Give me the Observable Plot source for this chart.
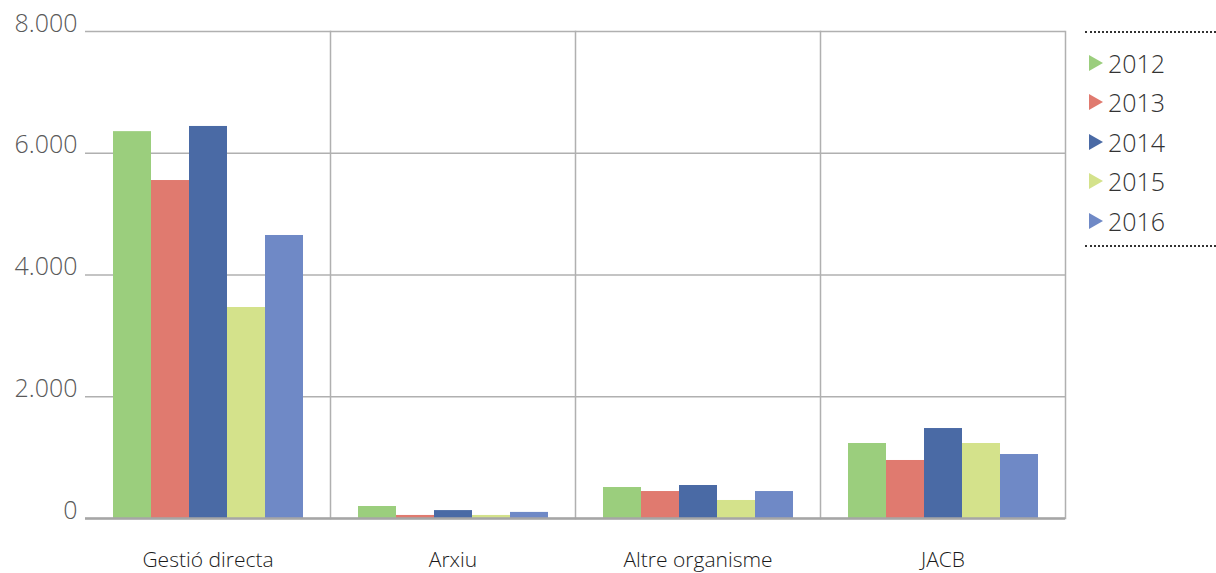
<!DOCTYPE html>
<html>
<head>
<meta charset="utf-8">
<script src="https://cdn.jsdelivr.net/npm/d3@7"></script>
<script src="https://cdn.jsdelivr.net/npm/@observablehq/plot@0.6"></script>
<style>
  html, body { margin: 0; padding: 0; background: #fff; }
  #wrap { position: relative; width: 1216px; height: 573px; font-family: "Open Sans", Lato, sans-serif; font-weight: 300; }
  #legend { position: absolute; left: 1085px; top: 31px; width: 131px; border-top: 2px dotted #333; border-bottom: 2px dotted #333; padding: 10px 0 4px 0; }
  .item { display: flex; align-items: center; height: 39.5px; font-size: 25px; color: #333; }
  .item svg { margin-left: 4px; margin-right: 5px; }
</style>
</head>
<body>
<div id="wrap"><div id="legend"></div></div>
<script>
const categories = ["Gestió directa", "Arxiu", "Altre organisme", "JACB"];
const years = ["2012", "2013", "2014", "2015", "2016"];
const v2012 = [6355, 197, 509, 1232];
const v2013 = [5552, 50, 443, 953];
const v2014 = [6440, 130, 542, 1478];
const v2015 = [3466, 50, 296, 1232];
const v2016 = [4649, 100, 443, 1051];
const yTicks = [0, 2000, 4000, 6000, 8000];
const colors = ["#9BCE7D", "#E07A6F", "#4A6AA5", "#D4E28B", "#6F89C6"];

const series = [v2012, v2013, v2014, v2015, v2016];
const data = [];
years.forEach((yr, i) => categories.forEach((c, j) => data.push({cat: c, year: yr, value: series[i][j]})));

const locale = d3.formatLocale({decimal: ",", thousands: ".", grouping: [3], currency: ["", "€"]});
const fmt = locale.format(",d");

const chart = Plot.plot({
  width: 1216,
  height: 573,
  marginLeft: 84,
  marginRight: 150,
  marginTop: 31,
  marginBottom: 55,
  style: {fontFamily: "'Open Sans', Lato, sans-serif", background: "transparent"},
  fx: {domain: categories, padding: 0, label: null, axis: "bottom", tickSize: 0, tickPadding: 34},
  x: {domain: years, axis: null, paddingInner: 0, paddingOuter: 0.7},
  y: {domain: [0, 8000], ticks: yTicks, tickFormat: fmt, tickSize: 0, tickPadding: 8, label: null},
  color: {domain: years, range: colors},
  marks: [
    Plot.ruleY(yTicks, {stroke: "#b0b0b0", strokeWidth: 1.5}),
    Plot.barY(data, {fx: "cat", x: "year", y: "value", fill: "year"}),
    Plot.frame({anchor: "right", stroke: "#b0b0b0", strokeWidth: 1.5}),
    Plot.ruleY([0], {stroke: "#a6a6a6", strokeWidth: 2.5})
  ]
});

const svg = d3.select(chart);
svg.selectAll('[aria-label^="y-axis"]').attr("font-size", 25).attr("font-weight", 300).attr("fill", "#595959");
svg.selectAll('[aria-label^="y-axis"] text').attr("font-size", 25).attr("font-weight", 300).attr("fill", "#595959");
svg.selectAll('[aria-label^="y-axis"]').each(function() {
  const t = this.getAttribute("transform") || "";
  this.setAttribute("transform", t + " translate(0,-8)");
});
svg.selectAll('[aria-label^="fx-axis"]').attr("font-size", 21).attr("font-weight", 300).attr("fill", "#1a1a1a");
svg.selectAll('[aria-label^="fx-axis"] text').attr("font-size", 21).attr("font-weight", 300).attr("fill", "#1a1a1a");

const wrap = document.getElementById("wrap");
wrap.insertBefore(chart, wrap.firstChild);

const legend = d3.select("#legend");
years.forEach((yr, i) => {
  const it = legend.append("div").attr("class", "item");
  const s = it.append("svg").attr("width", 14).attr("height", 16);
  s.append("path").attr("d", "M0,0L14,8L0,16Z").attr("fill", colors[i]);
  it.append("span").text(yr);
});
</script>
</body>
</html>
